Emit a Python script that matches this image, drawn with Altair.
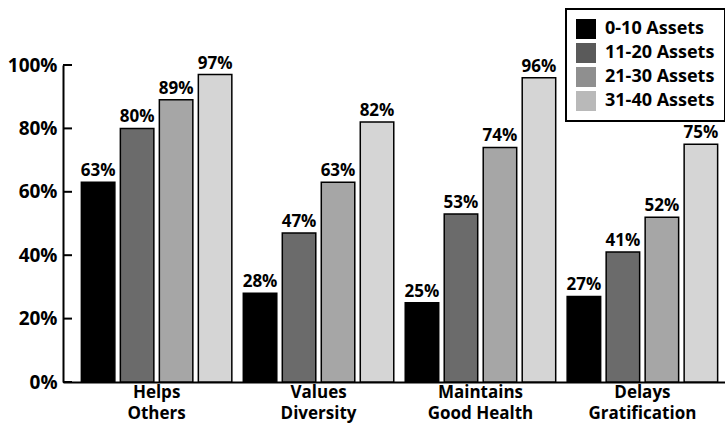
import altair as alt
import pandas as pd

# Categories (two-line axis labels) and asset bands
categories = ["Helps\nOthers", "Values\nDiversity", "Maintains\nGood Health", "Delays\nGratification"]
asset_groups = ["0-10 Assets", "11-20 Assets", "21-30 Assets", "31-40 Assets"]

# Percent of youth reporting each behaviour, per asset band
assets_0_10 = [63, 28, 25, 27]
assets_11_20 = [80, 47, 53, 41]
assets_21_30 = [89, 63, 74, 52]
assets_31_40 = [97, 82, 96, 75]

y_ticks = [0, 20, 40, 60, 80, 100]

bar_colors = ["#000000", "#6b6b6b", "#a6a6a6", "#d5d5d5"]
key_colors = ["#000000", "#5a5a5a", "#8f8f8f", "#b9b9b9"]

FONT = "Open Sans"

rows = []
for grp, vals in zip(asset_groups, [assets_0_10, assets_11_20, assets_21_30, assets_31_40]):
    for cat, v in zip(categories, vals):
        rows.append({"category": cat, "group": grp, "value": v, "label": f"{v}%"})
df = pd.DataFrame(rows)
ticks_df = pd.DataFrame({"t": y_ticks})

x_enc = alt.X(
    "category:N",
    sort=categories,
    title=None,
    scale=alt.Scale(range=[0, 673], paddingInner=0, paddingOuter=0.078),
    axis=alt.Axis(
        labelExpr="split(datum.value, '\\n')",
        labelAngle=0,
        ticks=False,
        domainColor="black",
        domainWidth=2,
        labelFont=FONT,
        labelFontSize=17,
        labelFontWeight="bold",
        labelColor="black",
        labelLineHeight=21,
        labelPadding=2,
        labelBaseline="top",
    ),
)
xoff_enc = alt.XOffset(
    "group:N",
    sort=asset_groups,
    scale=alt.Scale(domain=asset_groups, paddingInner=0.141, paddingOuter=0.147),
)
y_enc = alt.Y(
    "value:Q",
    title=None,
    scale=alt.Scale(domain=[0, 100], nice=False),
    axis=alt.Axis(
        values=y_ticks,
        labelExpr="datum.value + '%'",
        ticks=False,
        grid=False,
        domainColor="black",
        domainWidth=2,
        labelFont=FONT,
        labelFontSize=19,
        labelFontWeight="bold",
        labelColor="black",
        labelPadding=6,
    ),
)

bars = alt.Chart(df).mark_bar(stroke="black", strokeWidth=1.5).encode(
    x=x_enc,
    xOffset=xoff_enc,
    y=y_enc,
    color=alt.Color("group:N", scale=alt.Scale(domain=asset_groups, range=bar_colors), legend=None),
)

labels = alt.Chart(df).mark_text(
    baseline="bottom", dy=-2, font=FONT, fontSize=17, fontWeight="bold", color="black"
).encode(x=x_enc, xOffset=xoff_enc, y=y_enc, text="label:N")

# inward-pointing tick marks on the value axis
tick_marks = alt.Chart(ticks_df).mark_rule(color="black", strokeWidth=2).encode(
    y=alt.Y("t:Q"), x=alt.value(0), x2=alt.value(9)
)

# key with its own swatch shades
key = alt.Chart(df).mark_square(opacity=0).encode(
    color=alt.Color(
        "group:N",
        scale=alt.Scale(domain=asset_groups, range=key_colors),
        legend=alt.Legend(
            title=None,
            orient="none",
            legendX=503,
            legendY=-56,
            symbolType="square",
            symbolSize=400,
            symbolOpacity=1,
            symbolStrokeWidth=0,
            labelFont=FONT,
            labelFontSize=18,
            labelFontWeight="bold",
            labelColor="black",
            labelOffset=9,
            rowPadding=4,
            padding=10,
            strokeColor="black",
        ),
    )
)

chart = (
    alt.layer(bars, labels, tick_marks, key)
    .resolve_scale(color="independent")
    .properties(
        width=662,
        height=317,
        autosize=alt.AutoSizeParams(type="none"),
        padding={"left": 63, "top": 65, "right": 0, "bottom": 46},
        background="white",
    )
    .configure_view(stroke=None)
    .configure_legend(strokeWidth=2)
)

chart.save("out.html", embed_options={"renderer": "svg", "actions": False})
